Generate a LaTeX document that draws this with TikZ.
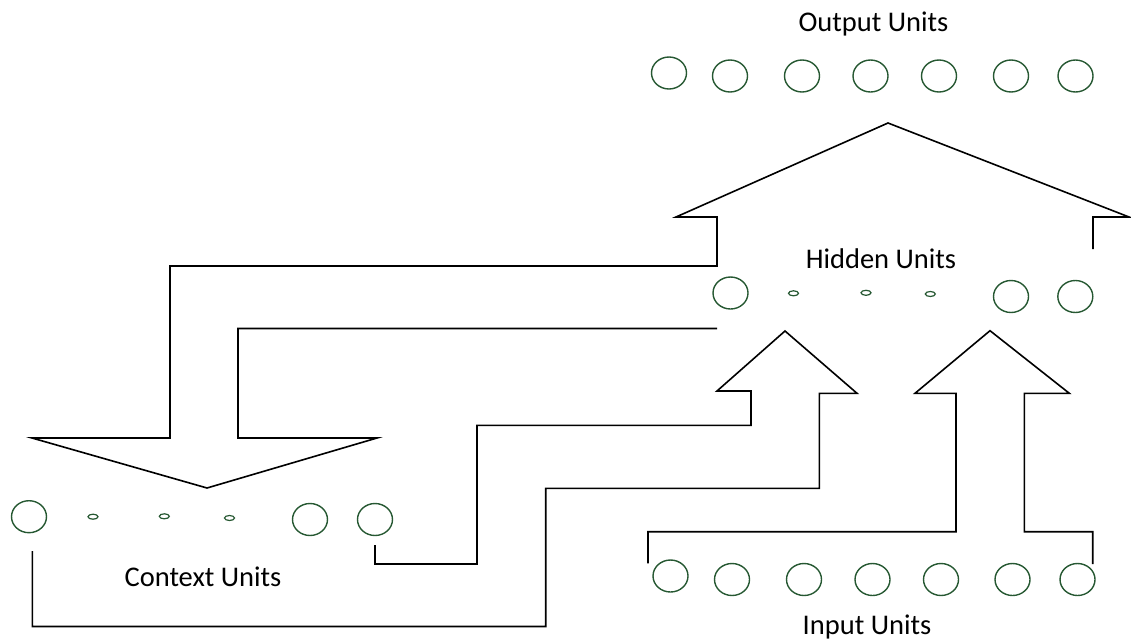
\documentclass[tikz,border=0pt]{standalone}
\usepackage{fontspec}
\setmainfont{Carlito}
\usetikzlibrary{shapes.geometric}

\definecolor{unitgreen}{RGB}{38,88,50}

\tikzset{
  unit/.style={ellipse, draw=unitgreen, line width=1.4pt, minimum width=35pt, minimum height=32pt, inner sep=0pt},
  dotunit/.style={ellipse, draw=unitgreen, line width=1.2pt, minimum width=10pt, minimum height=5pt, inner sep=0pt},
  layername/.style={anchor=base, font=\fontsize{28.5}{30}\selectfont},
  flow/.style={line width=1.6pt, line join=miter}
}

\begin{document}
\begin{tikzpicture}[x=1pt, y=-1pt]
    \useasboundingbox (0,0) rectangle (1131,642);

    % Output units
    \node[layername] (outlbl) at (873.5, 31.7) {Output Units};
    \node[unit] (o1) at (669, 73) {};
    \node[unit] (o2) at (730, 76) {};
    \node[unit] (o3) at (802, 76) {};
    \node[unit] (o4) at (870.5, 76) {};
    \node[unit] (o5) at (939, 76) {};
    \node[unit] (o6) at (1011, 76) {};
    \node[unit] (o7) at (1075.5, 76) {};

    % Hidden units
    \node[layername] (hidlbl) at (881, 268.3) {Hidden Units};
    \node[unit] (h1) at (730.5, 293) {};
    \node[dotunit] (h2) at (793.5, 293.3) {};
    \node[dotunit] (h3) at (866, 292.8) {};
    \node[dotunit] (h4) at (930.3, 294) {};
    \node[unit] (h5) at (1011, 296.5) {};
    \node[unit] (h6) at (1075.3, 296.5) {};

    % Context units
    \node[layername] (ctxlbl) at (203, 586.7) {Context Units};
    \node[unit] (c1) at (29, 516.7) {};
    \node[dotunit] (c2) at (93, 516.7) {};
    \node[dotunit] (c3) at (164.3, 516.3) {};
    \node[dotunit] (c4) at (229.5, 518) {};
    \node[unit] (c5) at (310, 519.5) {};
    \node[unit] (c6) at (375, 519.5) {};

    % Input units
    \node[layername] (inlbl) at (867, 634) {Input Units};
    \node[unit] (i1) at (670.5, 576) {};
    \node[unit] (i2) at (732, 579.5) {};
    \node[unit] (i3) at (804, 579.5) {};
    \node[unit] (i4) at (872.5, 579.5) {};
    \node[unit] (i5) at (941, 579.5) {};
    \node[unit] (i6) at (1012.5, 579.5) {};
    \node[unit] (i7) at (1077.5, 579.5) {};

    % Hidden -> output, hidden -> context (copy)
    \draw[flow] (717,328.5) -- (238,328.5) -- (238,438) -- (377,438) -- (207,488)
        -- (32,438) -- (170,438) -- (170,266) -- (717,266) -- (717,217) -- (676,217)
        -- (888,123) -- (1129,217) -- (1093,217) -- (1093,249);

    % Context -> hidden
    \draw[flow] (375,545) -- (375,564) -- (477,564) -- (477,425.3) -- (751,425.3)
        -- (751,391) -- (717,391) -- (785,331) -- (857,393.3) -- (819.3,393.3)
        -- (819.3,488.3) -- (545.7,488.3) -- (545.7,626.5) -- (32.3,626.5) -- (32.3,551);

    % Input -> hidden
    \draw[flow] (648,563.3) -- (648,531.7) -- (956,531.7) -- (956,393.3) -- (915,393.3)
        -- (990,330.7) -- (1069.3,393.3) -- (1024.3,393.3) -- (1024.3,531.7)
        -- (1092.7,531.7) -- (1092.7,564);
\end{tikzpicture}
\end{document}
